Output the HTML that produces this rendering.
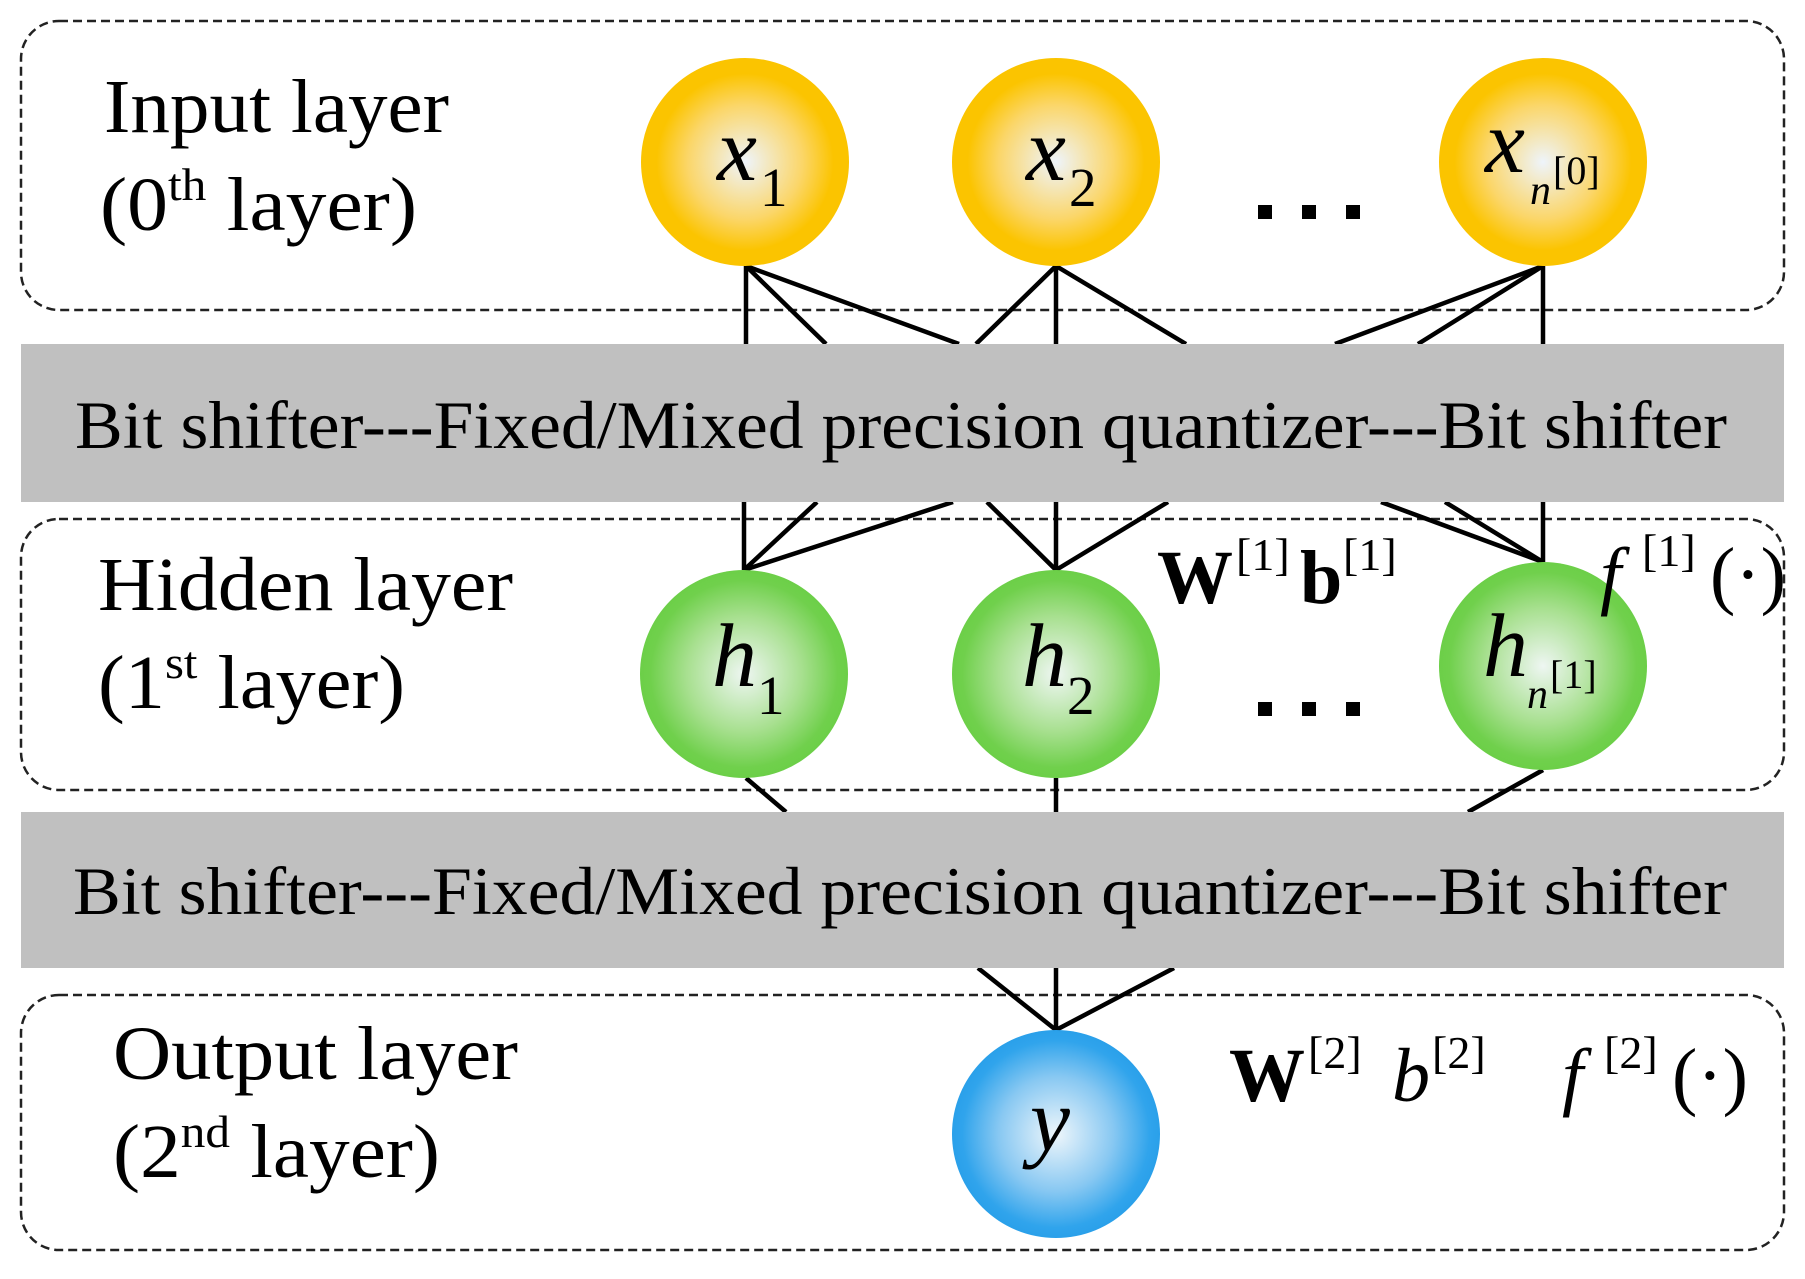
<!DOCTYPE html>
<html><head><meta charset="utf-8"><style>html,body{margin:0;padding:0;background:#fff}svg{display:block}</style></head>
<body>
<svg width="1805" height="1279" viewBox="0 0 1805 1279" xmlns="http://www.w3.org/2000/svg" font-family="Liberation Serif, Times New Roman, serif">
<defs>
<radialGradient id="gy" cx="50%" cy="50%" r="50%"><stop offset="0" stop-color="#eef4fb"/><stop offset="0.55" stop-color="#fbd669"/><stop offset="0.85" stop-color="#fbc400"/><stop offset="1" stop-color="#fbc400"/></radialGradient>
<radialGradient id="gg" cx="50%" cy="50%" r="50%"><stop offset="0" stop-color="#eef6f2"/><stop offset="0.55" stop-color="#a8e090"/><stop offset="0.9" stop-color="#70d04c"/><stop offset="1" stop-color="#6ccf48"/></radialGradient>
<radialGradient id="gb" cx="50%" cy="50%" r="50%"><stop offset="0" stop-color="#eef6fb"/><stop offset="0.55" stop-color="#88c8f2"/><stop offset="0.9" stop-color="#30a4ec"/><stop offset="1" stop-color="#2aa0ea"/></radialGradient>
</defs>
<g fill="none" stroke="#222" stroke-width="2.5" stroke-dasharray="9 5">
<rect x="21" y="21" width="1763" height="289" rx="38"/>
<rect x="21" y="519" width="1763" height="271" rx="38"/>
<rect x="21" y="995" width="1763" height="255" rx="38"/>
</g>
<g stroke="#000" stroke-width="4.5">
<line x1="746" y1="266" x2="746" y2="344"/><line x1="746" y1="266" x2="826" y2="344"/><line x1="746" y1="266" x2="959" y2="344"/>
<line x1="1056" y1="266" x2="976" y2="344"/><line x1="1056" y1="266" x2="1056" y2="344"/><line x1="1056" y1="266" x2="1186" y2="344"/>
<line x1="1543" y1="266" x2="1335" y2="344"/><line x1="1543" y1="266" x2="1418" y2="344"/><line x1="1543" y1="266" x2="1543" y2="344"/>
<line x1="744" y1="502" x2="744" y2="570"/><line x1="817" y1="502" x2="744" y2="570"/><line x1="953" y1="502" x2="744" y2="570"/>
<line x1="987" y1="502" x2="1056" y2="570"/><line x1="1056" y1="502" x2="1056" y2="570"/><line x1="1168" y1="502" x2="1056" y2="570"/>
<line x1="1381" y1="502" x2="1543" y2="562"/><line x1="1445" y1="502" x2="1543" y2="562"/><line x1="1543" y1="502" x2="1543" y2="562"/>
<line x1="746" y1="778" x2="786" y2="812"/><line x1="1056" y1="778" x2="1056" y2="812"/><line x1="1543" y1="770" x2="1468" y2="812"/>
<line x1="978" y1="968" x2="1056" y2="1030"/><line x1="1056" y1="968" x2="1056" y2="1030"/><line x1="1174" y1="968" x2="1056" y2="1030"/>
</g>
<rect x="21" y="344" width="1763" height="158" fill="#c0c0c0"/>
<rect x="21" y="812" width="1763" height="156" fill="#c0c0c0"/>
<g font-size="68" fill="#000">
<text x="75" y="448" textLength="1652" lengthAdjust="spacingAndGlyphs">Bit shifter---Fixed/Mixed precision quantizer---Bit shifter</text>
<text x="73" y="914" textLength="1654" lengthAdjust="spacingAndGlyphs">Bit shifter---Fixed/Mixed precision quantizer---Bit shifter</text>
</g>
<circle cx="745" cy="162" r="104" fill="url(#gy)"/>
<circle cx="1056" cy="162" r="104" fill="url(#gy)"/>
<circle cx="1543" cy="162" r="104" fill="url(#gy)"/>
<circle cx="744" cy="674" r="104" fill="url(#gg)"/>
<circle cx="1056" cy="674" r="104" fill="url(#gg)"/>
<circle cx="1543" cy="666" r="104" fill="url(#gg)"/>
<circle cx="1056" cy="1134" r="104" fill="url(#gb)"/>
<g fill="#000">
<g font-size="76">
<text x="104" y="132" textLength="345" lengthAdjust="spacingAndGlyphs">Input layer</text>
<text x="100" y="230" textLength="317" lengthAdjust="spacingAndGlyphs">(0<tspan font-size="46" dy="-30">th</tspan><tspan dy="30"> layer)</tspan></text>
<text x="98" y="610" textLength="415" lengthAdjust="spacingAndGlyphs">Hidden layer</text>
<text x="98" y="708" textLength="307" lengthAdjust="spacingAndGlyphs">(1<tspan font-size="46" dy="-30">st</tspan><tspan dy="30"> layer)</tspan></text>
<text x="113" y="1079" textLength="405" lengthAdjust="spacingAndGlyphs">Output layer</text>
<text x="113" y="1177" textLength="327" lengthAdjust="spacingAndGlyphs">(2<tspan font-size="46" dy="-30">nd</tspan><tspan dy="30"> layer)</tspan></text>
</g>
<g font-size="90" font-style="italic">
<text x="717" y="180">x</text><text x="760" y="206" font-size="55" font-style="normal">1</text>
<text x="1026" y="180">x</text><text x="1069" y="206" font-size="55" font-style="normal">2</text>
<text x="1485" y="172">x</text><text x="1530" y="204" font-size="42">n</text><text x="1553" y="184" font-size="40" font-style="normal">[0]</text>
<text x="712" y="686">h</text><text x="757" y="714" font-size="55" font-style="normal">1</text>
<text x="1022" y="686">h</text><text x="1067" y="714" font-size="55" font-style="normal">2</text>
<text x="1483" y="676">h</text><text x="1527" y="708" font-size="42">n</text><text x="1550" y="688" font-size="40" font-style="normal">[1]</text>
<text x="1030" y="1150">y</text>
</g>
<rect x="1258" y="205" width="14" height="14"/><rect x="1302" y="205" width="14" height="14"/><rect x="1346" y="205" width="14" height="14"/>
<rect x="1258" y="702" width="14" height="14"/><rect x="1302" y="702" width="14" height="14"/><rect x="1346" y="702" width="14" height="14"/>
<g font-size="76">
<text x="1157" y="603" font-weight="bold">W</text><text x="1236" y="570" font-size="46">[1]</text>
<text x="1300" y="603" font-weight="bold">b</text><text x="1343" y="570" font-size="46">[1]</text>
<text x="1600" y="600" font-style="italic">f</text><text x="1642" y="566" font-size="46">[1]</text><text x="1710" y="600">(·)</text>
<text x="1229" y="1101" font-weight="bold">W</text><text x="1308" y="1068" font-size="46">[2]</text>
<text x="1392" y="1101" font-style="italic">b</text><text x="1432" y="1068" font-size="46">[2]</text>
<text x="1562" y="1101" font-style="italic">f</text><text x="1604" y="1068" font-size="46">[2]</text><text x="1672" y="1101">(·)</text>
</g>
</g>
</svg>
</body></html>
